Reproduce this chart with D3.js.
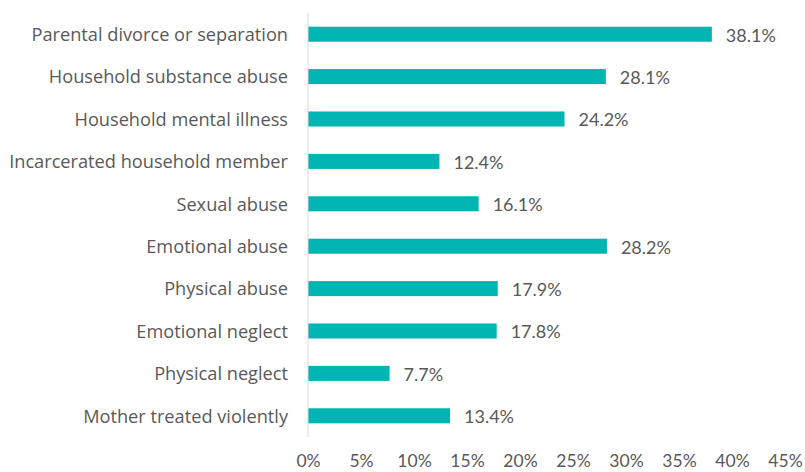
<!DOCTYPE html>
<html><head><meta charset="utf-8">
<script src="https://cdn.jsdelivr.net/npm/d3@7"></script>
<style>body{margin:0;background:#fff}svg{display:block}text{font-family:Lato,"Open Sans",sans-serif;fill:#595959}</style>
</head><body>
<svg id="c" width="805" height="472"></svg>
<script>
const categories = ["Parental divorce or separation","Household substance abuse","Household mental illness","Incarcerated household member","Sexual abuse","Emotional abuse","Physical abuse","Emotional neglect","Physical neglect","Mother treated violently"];
const values = [38.1,28.1,24.2,12.4,16.1,28.2,17.9,17.8,7.7,13.4];
const ticks = [0,5,10,15,20,25,30,35,40,45];

const svg = d3.select("#c");
const x = d3.scaleLinear().domain([0,45]).range([308,785]);
const y = d3.scaleBand().domain(categories).range([13,437]).paddingInner(0.645).paddingOuter(0.3225);

svg.append("g").selectAll("rect").data(values).join("rect")
  .attr("x", x(0)).attr("y",(d,i)=>y(categories[i]))
  .attr("width", d=>x(d)-x(0)).attr("height", y.bandwidth())
  .attr("fill","#00B5B2");

svg.append("line").attr("x1",x(0)).attr("x2",x(0)).attr("y1",13).attr("y2",437)
  .attr("stroke","#d9d9d9").attr("stroke-width",1);

svg.append("g").selectAll("text").data(values).join("text")
  .attr("x", d=>x(d)+14).attr("y",(d,i)=>y(categories[i])+y.bandwidth()/2+1)
  .attr("dy","0.35em").attr("font-size",18).text(d=>d.toFixed(1)+"%");

const yAxis = d3.axisLeft(y).tickSize(0).tickPadding(20);
const ga = svg.append("g").attr("transform",`translate(${x(0)},1)`).call(yAxis);
ga.select(".domain").remove();
ga.selectAll("text").attr("font-size",18.2).style("font-family","'Open Sans'").attr("fill","#595959");

const xAxis = d3.axisBottom(x).tickValues(ticks).tickSize(0).tickPadding(0).tickFormat(d=>d+"%");
const gx = svg.append("g").attr("transform","translate(0,455)").call(xAxis);
gx.select(".domain").remove();
gx.selectAll("text").attr("font-size",17.5).style("font-family","Lato").attr("fill","#595959");
</script>
</body></html>
